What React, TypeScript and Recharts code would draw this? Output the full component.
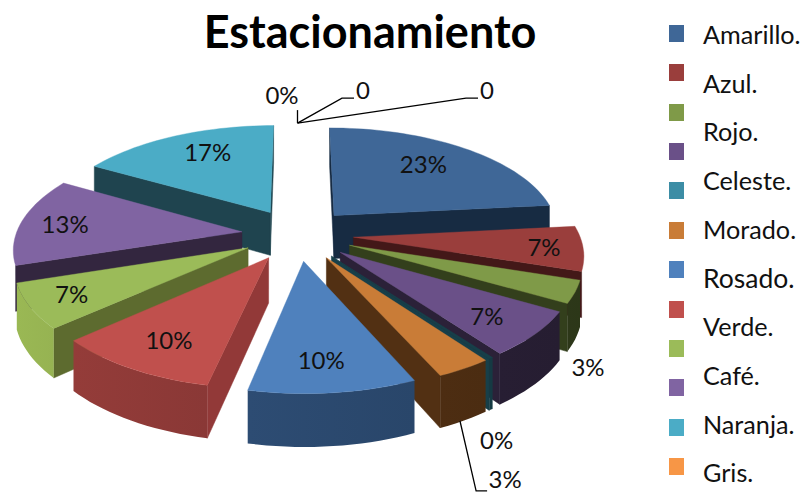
import { Legend, Pie, PieChart } from 'recharts';

const categories = ['Amarillo.', 'Azul.', 'Rojo.', 'Celeste.', 'Morado.', 'Rosado.', 'Verde.', 'Café.', 'Naranja.', 'Gris.'];
const sliceNames = ['p1', 'p2', 'p3', 'p4', 'p5', 'p6', 'p7', 'p8', 'p9', 'p10', 'p11', 'p12', 'p13', 'p14'];
const counts = [7, 2, 1, 2, 0, 1, 3, 3, 2, 4, 5, 0, 0, 0];
const topColors = ['#3F6797', '#9A3E3C', '#7F9A48', '#6A5088', '#173F49', '#C97C37', '#4F81BD', '#C0504D', '#9BBB59', '#8064A2', '#4BACC6', '#F79646', '#3F6797', '#9A3E3C'];
const radialColors = ['#172B42', '#431818', '#333F1C', '#2B2138', '#173F49', '#523013', '#24405F', '#923938', '#5D6B2F', '#33263F', '#1F444F', '#7A4A20', '#172B42', '#431818'];
const rimColors = ['#172B42', '#431818', '#333F1C', '#2B2138', '#173F49', '#523013', '#2C4A70', '#863634', '#88A24A', '#33263F', '#3A8BA0', '#7A4A20', '#172B42', '#431818'];
const swatchColors = ['#3F6797', '#9A3E3C', '#7F9A48', '#6A5088', '#3C8DA5', '#C97C37', '#4F81BD', '#C0504D', '#9BBB59', '#8064A2', '#4BACC6', '#F79646'];

// back to front, the sides of the pie overlap each other in this order
const drawOrder = [13, 12, 11, 0, 1, 2, 3, 4, 5, 6, 10, 9, 8, 7];
// these rims stick out past their neighbour in our projection, the original hides them
const hiddenRims = [1, 9];

const W = 803;
const H = 494;
const CX = 297.5;
const CY = 234.5;
const RADIUS = 226;
const EXPLODE = 56;
const DEPTH = 44;
const PERSPECTIVE = 1595;
const TILT = 0.465;
const LABEL_RADIUS = 143;

// hand placed label nudges, same as someone dragged them in the original
const labelNudge: [number, number][] = [
  [4, -7], [46, 3], [99, 93], [28, 14.5], [69, 122.5], [96, 155.5], [0, 21],
  [-17, 16], [-42, 11], [-37, 0], [0, -9.5], [-15.5, -57], [65.5, -62], [189.5, -62],
];

const RAD = Math.PI / 180;

function project(cx: number, cy: number, angle: number, r: number, offAngle: number, z = 0) {
  const u = r * Math.cos(angle * RAD) + EXPLODE * Math.cos(offAngle * RAD);
  const v = -r * Math.sin(angle * RAD) - EXPLODE * Math.sin(offAngle * RAD);
  const s = PERSPECTIVE / (PERSPECTIVE - v);
  return { x: cx + u * s, y: cy + v * TILT * s + z * s };
}

const pts = (list: { x: number; y: number }[]) => list.map(p => `${p.x.toFixed(1)},${p.y.toFixed(1)}`).join(' ');

function shade(hex: string, f: number) {
  const n = parseInt(hex.slice(1), 16);
  const c = [(n >> 16) & 255, (n >> 8) & 255, n & 255].map(v => Math.min(255, Math.round(v * f)));
  return `rgb(${c[0]},${c[1]},${c[2]})`;
}

function Slice3D(props: any) {
  const { cx, cy, outerRadius, idx } = props;
  let { startAngle, endAngle } = props;
  const mid = (startAngle + endAngle) / 2;
  const isZero = Math.abs(startAngle - endAngle) < 0.01;
  // zero slices at the back show nothing, the front one is a thin sliver
  if (isZero && Math.sin(mid * RAD) > 0) return null;
  if (isZero) {
    startAngle += 0.5;
    endAngle -= 0.5;
  }

  const steps = Math.max(2, Math.ceil(Math.abs(startAngle - endAngle) / 2));
  const arc: number[] = [];
  for (let k = 0; k <= steps; k++) arc.push(startAngle + ((endAngle - startAngle) * k) / steps);

  const apex = project(cx, cy, mid, 0, mid);
  const apexLow = project(cx, cy, mid, 0, mid, DEPTH);
  const rimTop = arc.map(a => project(cx, cy, a, outerRadius, mid));
  const rimLow = arc.map(a => project(cx, cy, a, outerRadius, mid, DEPTH));
  const inner = project(cx, cy, mid, outerRadius * 0.6, mid);

  const wall = (i: number) => {
    const b = rimTop[i];
    const dx = b.x - apex.x;
    const dy = b.y - apex.y;
    const side = dx * (inner.y - apex.y) - dy * (inner.x - apex.x);
    if (dx * side >= 0) return null;
    const fill = radialColors[idx];
    return <polygon key={`w${i}`} points={pts([apex, b, rimLow[i], apexLow])} fill={fill} stroke={fill} strokeWidth={0.5} />;
  };

  // only the part of the rim that faces the viewer gets drawn
  const front = hiddenRims.includes(idx) ? [] : arc.map((a, k) => k).filter(k => Math.sin(arc[k] * RAD) <= 0.02);
  const rimUp = front.map(k => rimTop[k]);
  const rimDown = front.map(k => rimLow[k]).reverse();
  const gradId = `rim-${idx}`;
  const first = front.length ? arc[front[0]] : 0;
  const last = front.length ? arc[front[front.length - 1]] : 0;

  return (
    <g>
      {wall(0)}
      {wall(steps)}
      {front.length > 1 && (
        <>
          <defs>
            <linearGradient id={gradId} gradientUnits="userSpaceOnUse" x1={rimUp[0].x} y1={0} x2={rimUp[rimUp.length - 1].x} y2={0}>
              <stop offset="0%" stopColor={shade(rimColors[idx], 1 - 0.14 * Math.cos(first * RAD))} />
              <stop offset="100%" stopColor={shade(rimColors[idx], 1 - 0.14 * Math.cos(last * RAD))} />
            </linearGradient>
          </defs>
          <polygon points={pts([...rimUp, ...rimDown])} fill={`url(#${gradId})`} />
        </>
      )}
      <polygon points={pts([apex, ...rimTop])} fill={topColors[idx]} stroke={topColors[idx]} strokeWidth={0.4} />
    </g>
  );
}

function renderLabel(props: any) {
  const { cx, cy, midAngle, percent, value, idx } = props;
  const base = project(cx, cy, midAngle, LABEL_RADIUS, midAngle);
  const [nx, ny] = labelNudge[idx];
  const x = base.x + nx;
  const y = base.y + ny;
  const text = idx >= 12 ? String(value) : `${Math.round(percent * 100)}%`;
  const rim = project(cx, cy, midAngle, RADIUS, midAngle);
  let leader: { x: number; y: number }[] | null = null;
  if (idx === 5) leader = [{ x: 460, y: 421 }, { x: x - 29, y: y + 11 }, { x: x - 18, y: y + 11 }];
  if (idx === 11) leader = [rim, { x: rim.x, y: rim.y - 13 }];
  if (idx >= 12) leader = [rim, { x: x - 21, y: y + 8 }, { x: x - 9, y: y + 8 }];
  return (
    <g key={idx}>
      {leader && <polyline points={pts(leader)} fill="none" stroke="#000" strokeWidth={1.3} />}
      <text x={x} y={y} dy="0.35em" textAnchor="middle" fontFamily="Lato" fontSize={24} fill="#111">{text}</text>
    </g>
  );
}

function LegendBlock() {
  return (
    <div style={{ position: 'relative', width: W, height: H }}>
      {swatchColors.map((c, i) => (
        <div key={c + i} style={{ position: 'absolute', left: 669, top: 24.7 + i * 39.4, width: 15, height: 17, background: c }} />
      ))}
      {categories.map((c, i) => (
        <div key={c} style={{ position: 'absolute', left: 703, top: 43 + i * 48.7 - 24, height: 30, lineHeight: '30px', fontFamily: 'Lato', fontSize: c === 'Rosado.' ? 26.5 : 25.2, color: '#111', whiteSpace: 'nowrap' }}>{c}</div>
      ))}
    </div>
  );
}

export default function App() {
  const pieData = counts.map((value, idx) => ({ name: sliceNames[idx], value, idx }));
  const common = {
    data: pieData,
    dataKey: 'value',
    cx: CX,
    cy: CY,
    outerRadius: RADIUS,
    startAngle: 90,
    endAngle: -270,
    paddingAngle: 0,
    isAnimationActive: false,
    legendType: 'none' as const,
  };
  return (
    <div style={{ position: 'absolute', left: 0, top: 0, width: W, height: H, background: '#fff' }}>
      <PieChart width={W} height={H} margin={{ top: 0, right: 0, bottom: 0, left: 0 }}>
        <text x={370} y={48} textAnchor="middle" fontFamily="Lato" fontWeight={700} fontSize={45} fill="#000">Estacionamiento</text>
        {drawOrder.map(i => (
          <Pie key={i} {...common} shape={(p: any) => (p.idx === i ? <Slice3D {...p} /> : <g />)} />
        ))}
        <Pie {...common} shape={() => <g />} label={renderLabel} labelLine={false} />
        <Legend content={<LegendBlock />} wrapperStyle={{ position: 'absolute', left: 0, top: 0, width: W, height: H }} />
      </PieChart>
    </div>
  );
}
